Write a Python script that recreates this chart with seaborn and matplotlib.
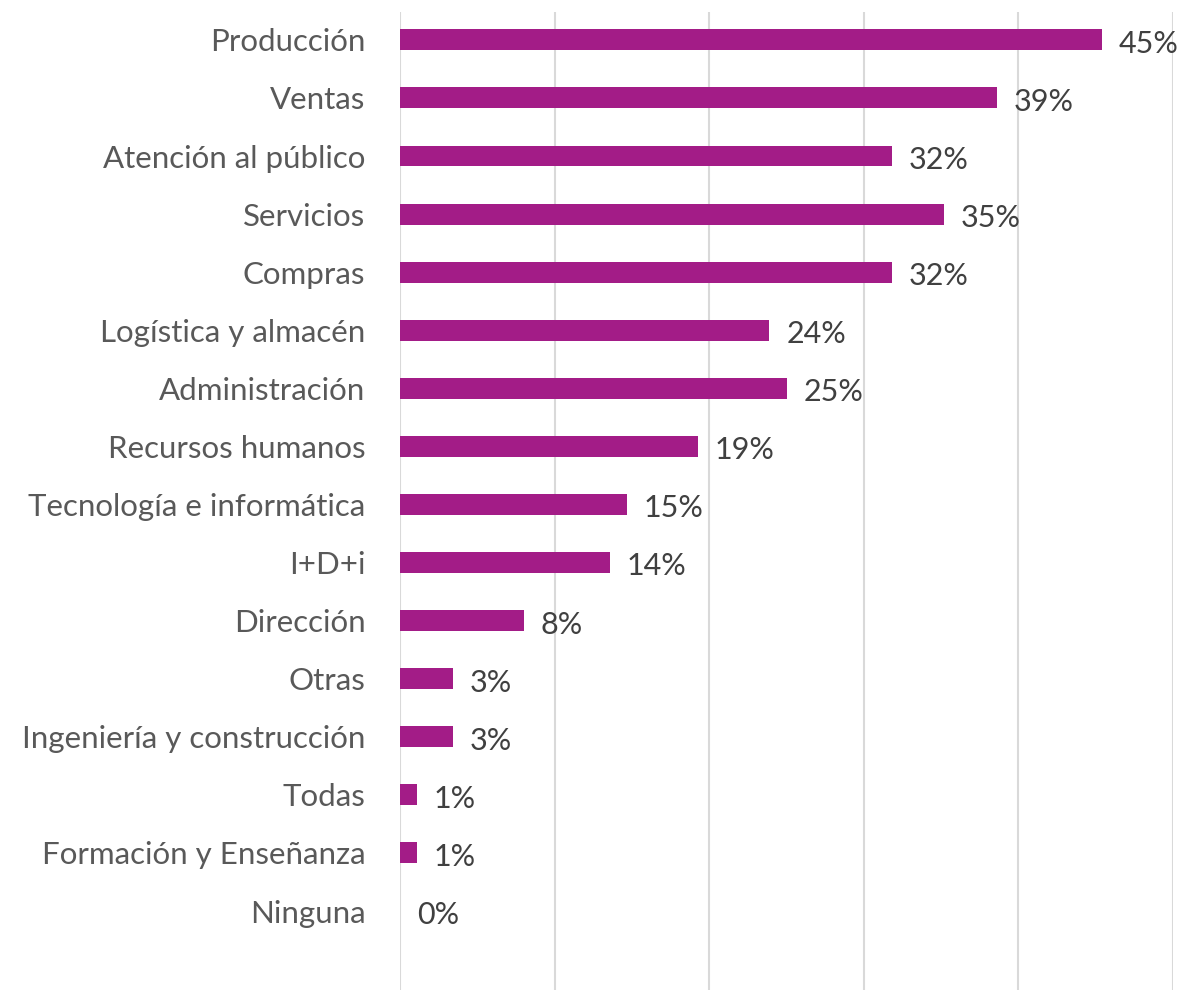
import matplotlib
matplotlib.use("Agg")
import matplotlib.pyplot as plt
import seaborn as sns
import pandas as pd

categories = ["Producción", "Ventas", "Atención al público", "Servicios", "Compras",
              "Logística y almacén", "Administración", "Recursos humanos",
              "Tecnología e informática", "I+D+i", "Dirección", "Otras",
              "Ingeniería y construcción", "Todas", "Formación y Enseñanza", "Ninguna"]
values = [45.4, 38.6, 31.8, 35.2, 31.8, 23.9, 25.0, 19.3, 14.7, 13.6, 8.0, 3.4, 3.4, 1.1, 1.1, 0.0]

sns.set_theme(style="white")
plt.rcParams["font.family"] = ["Lato", "DejaVu Sans"]

df = pd.DataFrame({"cat": categories, "val": values})

fig = plt.figure(figsize=(11.81, 9.91), dpi=100)
ax = fig.add_axes([400/1181, 1-990/991, (1173-400)/1181, (990-12)/991])

sns.barplot(data=df, x="val", y="cat", color="#A31C87", width=0.36, saturation=1,
            ax=ax, edgecolor="none")

ax.set_xlim(0, 50)
ax.set_ylim(16.36, -0.48)
ax.set_xticks([0, 10, 20, 30, 40, 50])
ax.set_xticklabels([])
ax.grid(axis="x", color="#D9D9D9", linewidth=1.5)
ax.set_axisbelow(True)
for s in ax.spines.values():
    s.set_visible(False)
ax.set_xlabel("")
ax.set_ylabel("")
ax.tick_params(axis="y", length=0, pad=25, labelsize=22.5, labelcolor="#595959")
ax.tick_params(axis="x", length=0)
for t in ax.get_yticklabels():
    t.set_va("center_baseline")

for i, v in enumerate(values):
    ax.annotate(f"{v:.0f}%", xy=(v, i), xytext=(12, -1), textcoords="offset points",
                va="center_baseline", ha="left", fontsize=22, color="#404040",
                annotation_clip=False)

fig.savefig("out.png", dpi=100)
